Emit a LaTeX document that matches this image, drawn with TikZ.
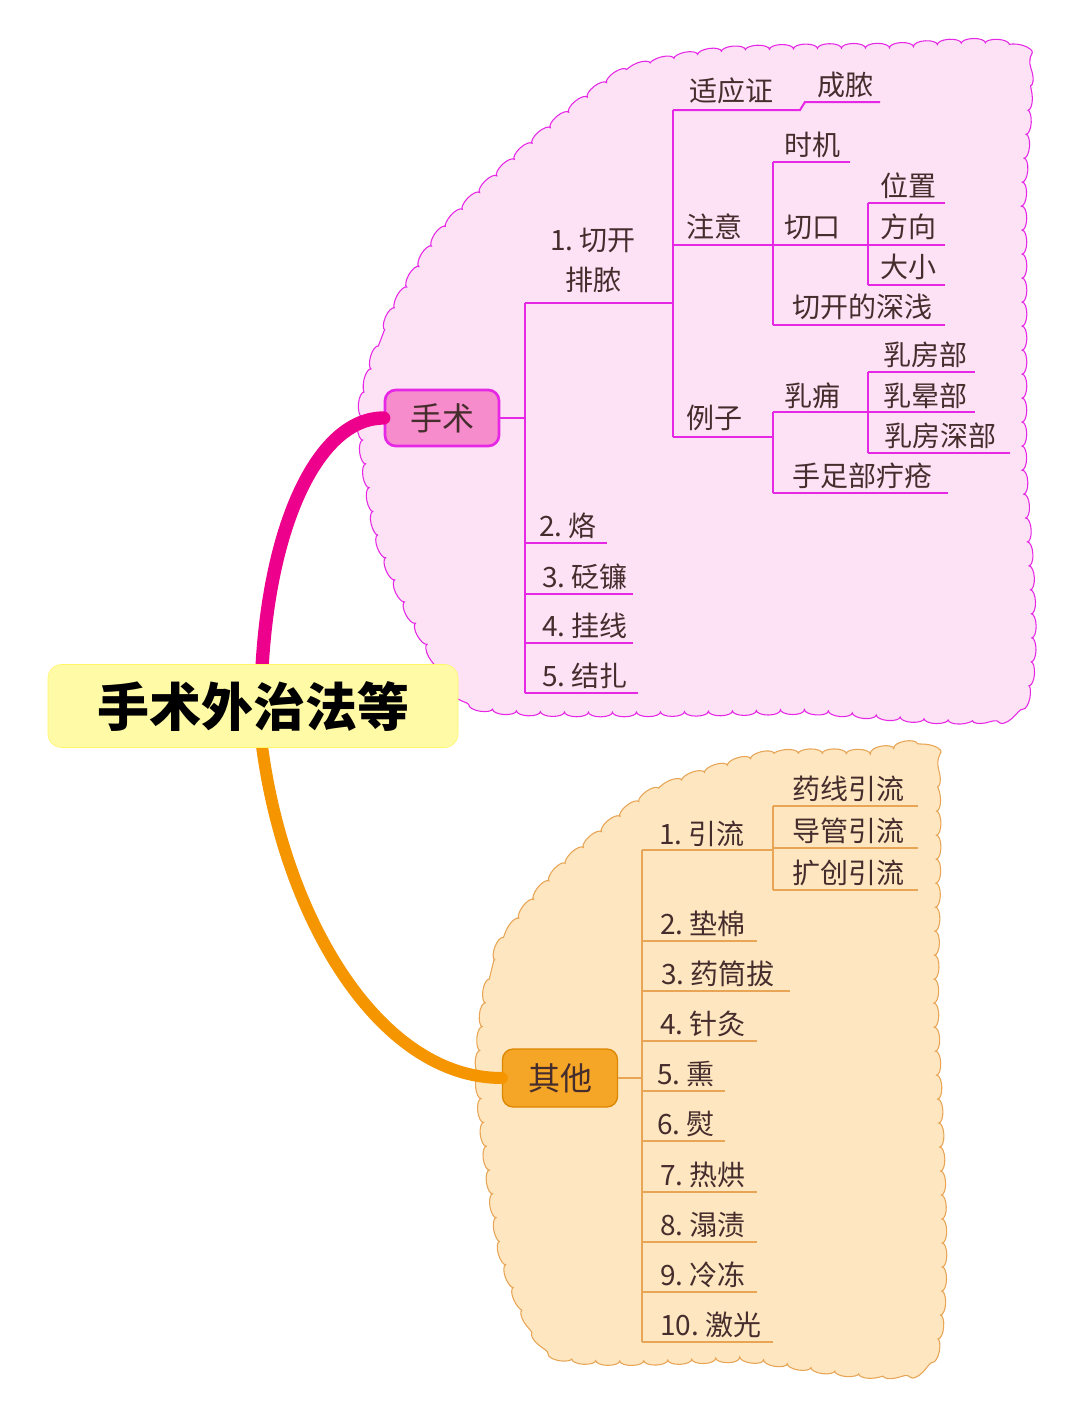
\documentclass[tikz,border=0pt]{standalone}
\usepackage{fontspec}
\setmainfont{Noto Sans CJK SC}
\usetikzlibrary{decorations.pathmorphing}
\definecolor{pinkfill}{RGB}{253,226,246}
\definecolor{mag}{RGB}{230,40,230}
\definecolor{orfill}{RGB}{253,230,192}
\definecolor{orline}{RGB}{232,165,85}
\definecolor{orbr}{RGB}{245,150,0}
\definecolor{txt}{RGB}{70,45,45}
\tikzset{
 lf/.style={font=\fontsize{21}{23}\selectfont, text=txt, inner sep=0pt, anchor=base},
 pl/.style={draw=mag, line width=1.5pt},
 ol/.style={draw=orline, line width=1.6pt},
 cloudy/.style={decorate, decoration={bumps, segment length=36pt, amplitude=3.5pt}},
 rootbox/.style={fill=yellow!35!white, draw=yellow!60!white, rounded corners=10pt, minimum width=410pt*0.75, minimum height=83pt*0.75, font=\fontsize{39}{41}\selectfont\bfseries, text=black},
}
\begin{document}
\begin{tikzpicture}[x=0.75pt,y=-0.75pt]
\useasboundingbox (0,0) rectangle (1080,1413);
\fill[white] (0,0) rectangle (1080,1413);
% clouds
\draw[cloudy, fill=pinkfill, draw=mag, line width=0.8pt] plot[smooth cycle, tension=0.4] coordinates {
 (362,420) (385,330) (440,235) (525,150) (620,75) (720,52) (880,48) (1020,52) (1022,200) (1022,450) (1020,705) (800,710) (490,708) (425,640) (380,540)};
\draw[cloudy, fill=orfill, draw=orline, line width=0.8pt] plot[smooth cycle, tension=0.4] coordinates {
 (480,1080) (495,960) (555,875) (650,795) (760,757) (860,754) (932,760) (934,1000) (932,1355) (740,1358) (560,1355) (505,1260)};
% branches
\node[draw=mag, line width=2pt, fill=magenta!45!white, rounded corners=8pt, minimum width=114pt*0.75, minimum height=56pt*0.75, font=\fontsize{24}{26}\selectfont, text=txt] (ss) at (442,418) {手术};
\node[draw=orbr!90!black, line width=1pt, fill=orbr!85!white, rounded corners=8pt, minimum width=115pt*0.75, minimum height=58pt*0.75, font=\fontsize{24}{26}\selectfont, text=txt] (qt) at (560,1078) {其他};
\coordinate (rt) at (262,668);
\coordinate (rb) at (262,746);
\draw[magenta, line width=10pt, line cap=round] (rt) .. controls (270,520) and (320,418) .. (ss.west);
\draw[orbr, line width=9pt, line cap=round] (rb) .. controls (285,920) and (380,1078) .. (qt.west);
\node[rootbox] (root) at (253,706) {手术外治法等};
% pink tree
\draw[pl] (ss.east) -- (525,418);
\draw[pl] (525,303) -- (525,693);
\node[lf, align=center, font=\fontsize{21}{30}\selectfont] (a1) at (593,290) {1.~切开\\排脓};
\draw[pl, line width=2.2pt] (525,303) -- (673,303);
\node[lf] (a2) at (568,536) {2.~烙}; \draw[pl, line width=2.2pt] (525,543) -- (607,543);
\node[lf] (a3) at (585,587) {3.~砭镰}; \draw[pl, line width=2.2pt] (525,594) -- (633,594);
\node[lf] (a4) at (585,636) {4.~挂线}; \draw[pl, line width=2.2pt] (525,643) -- (633,643);
\node[lf] (a5) at (585,686) {5.~结扎}; \draw[pl, line width=2.2pt] (525,693) -- (638,693);
\draw[pl] (673,110) -- (673,437);
\node[lf] (b1) at (731,102) {适应证}; \draw[pl] (673,110) -- (800,110) -- (805,102) -- (880,102);
\node[lf] (b1a) at (845,95) {成脓};
\node[lf] (b2) at (714,237) {注意}; \draw[pl] (673,245) -- (773,245);
\draw[pl] (773,162) -- (773,325);
\node[lf] (c1) at (812,155) {时机}; \draw[pl] (773,162) -- (850,162);
\node[lf] (c2) at (812,237) {切口}; \draw[pl] (773,245) -- (868,245);
\draw[pl] (868,203) -- (868,285);
\node[lf] (d1) at (908,196) {位置}; \draw[pl] (868,203) -- (945,203);
\node[lf] (d2) at (908,237) {方向}; \draw[pl] (868,245) -- (945,245);
\node[lf] (d3) at (908,277) {大小}; \draw[pl] (868,285) -- (945,285);
\node[lf] (c3) at (862,317) {切开的深浅}; \draw[pl] (773,325) -- (945,325);
\node[lf] (b3) at (714,428) {例子}; \draw[pl] (673,437) -- (773,437);
\draw[pl] (773,412) -- (773,493);
\node[lf] (e1) at (812,406) {乳痈}; \draw[pl] (773,412) -- (868,412);
\draw[pl] (868,372) -- (868,453);
\node[lf] (f1) at (925,365) {乳房部}; \draw[pl] (868,372) -- (975,372);
\node[lf] (f2) at (925,406) {乳晕部}; \draw[pl] (868,412) -- (975,412);
\node[lf] (f3) at (940,446) {乳房深部}; \draw[pl] (868,453) -- (1010,453);
\node[lf] (e2) at (862,486) {手足部疔疮}; \draw[pl] (773,493) -- (948,493);
% orange tree
\draw[ol] (qt.east) -- (642,1078);
\draw[ol] (642,850) -- (642,1342);
\node[lf] (o1) at (702,844) {1.~引流}; \draw[ol] (642,850) -- (773,850);
\draw[ol] (773,806) -- (773,890);
\node[lf] (p1) at (848,799) {药线引流}; \draw[ol] (773,806) -- (918,806);
\node[lf] (p2) at (848,841) {导管引流}; \draw[ol] (773,848) -- (918,848);
\node[lf] (p3) at (848,883) {扩创引流}; \draw[ol] (773,890) -- (918,890);
\node[lf] (o2) at (703,934) {2.~垫棉}; \draw[ol] (642,941) -- (757,941);
\node[lf] (o3) at (718,984) {3.~药筒拔}; \draw[ol] (642,991) -- (790,991);
\node[lf] (o4) at (703,1034) {4.~针灸}; \draw[ol] (642,1041) -- (757,1041);
\node[lf] (o5) at (686,1084) {5.~熏}; \draw[ol] (642,1091) -- (725,1091);
\node[lf] (o6) at (686,1134) {6.~熨}; \draw[ol] (642,1141) -- (725,1141);
\node[lf] (o7) at (703,1185) {7.~热烘}; \draw[ol] (642,1192) -- (757,1192);
\node[lf] (o8) at (703,1235) {8.~溻渍}; \draw[ol] (642,1242) -- (757,1242);
\node[lf] (o9) at (703,1285) {9.~冷冻}; \draw[ol] (642,1292) -- (757,1292);
\node[lf] (o10) at (711,1335) {10.~激光}; \draw[ol] (642,1342) -- (773,1342);
\end{tikzpicture}
\end{document}
